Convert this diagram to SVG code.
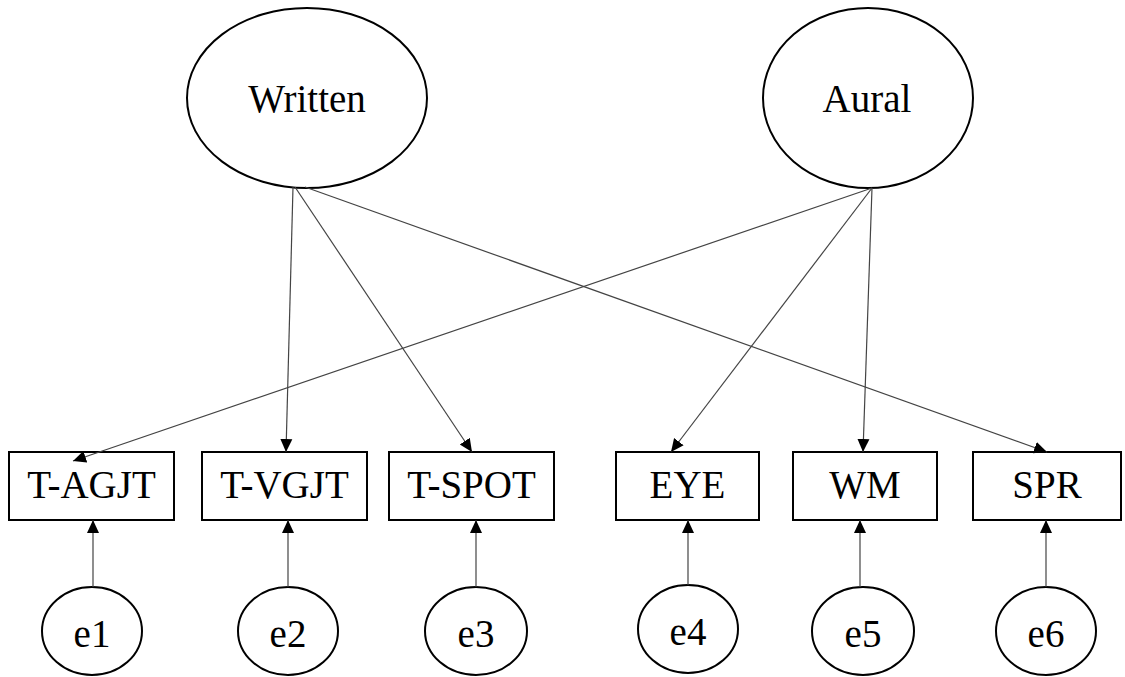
<svg xmlns="http://www.w3.org/2000/svg" width="1125" height="677" viewBox="0 0 1125 677">
  <defs>
    <marker id="arrow" markerUnits="userSpaceOnUse" markerWidth="14" markerHeight="14" viewBox="0 0 14 14" refX="13" refY="7" orient="auto">
      <path d="M0,1 L13,7 L0,13 Z" fill="#000"/>
    </marker>
  </defs>
  <style>
    .latent { fill: #fff; stroke: #000; stroke-width: 2; }
    .obs { fill: #fff; stroke: #000; stroke-width: 2; }
    .err { fill: #fff; stroke: #000; stroke-width: 2; }
    .lbl { font-family: "Liberation Serif", "Times New Roman", serif; font-size: 39px; fill: #000; text-anchor: middle; }
    .edge { stroke: #444; stroke-width: 1.2; fill: none; marker-end: url(#arrow); }
  </style>
  <rect width="1125" height="677" fill="#fff"/>

  <!-- latent factors -->
  <g id="written">
    <ellipse class="latent" cx="307" cy="98" rx="120" ry="90"/>
    <text class="lbl" x="307" y="112">Written</text>
  </g>
  <g id="aural">
    <ellipse class="latent" cx="868" cy="98" rx="105" ry="90"/>
    <text class="lbl" x="867" y="112">Aural</text>
  </g>

  <!-- observed indicators -->
  <g id="t-agjt">
    <rect class="obs" x="9" y="452" width="165" height="68"/>
    <text class="lbl" x="91.5" y="498">T-AGJT</text>
  </g>
  <g id="t-vgjt">
    <rect class="obs" x="202" y="452" width="165" height="68"/>
    <text class="lbl" x="284.5" y="498">T-VGJT</text>
  </g>
  <g id="t-spot">
    <rect class="obs" x="389" y="452" width="165" height="68"/>
    <text class="lbl" x="471.5" y="498">T-SPOT</text>
  </g>
  <g id="eye">
    <rect class="obs" x="616" y="452" width="143" height="68"/>
    <text class="lbl" x="687.5" y="498">EYE</text>
  </g>
  <g id="wm">
    <rect class="obs" x="793" y="452" width="144" height="68"/>
    <text class="lbl" x="865" y="498">WM</text>
  </g>
  <g id="spr">
    <rect class="obs" x="973" y="452" width="148" height="68"/>
    <text class="lbl" x="1047" y="498">SPR</text>
  </g>

  <!-- error terms -->
  <g id="e1">
    <ellipse class="err" cx="92" cy="631" rx="50" ry="44"/>
    <text class="lbl" x="92" y="647">e1</text>
  </g>
  <g id="e2">
    <ellipse class="err" cx="288" cy="631" rx="50" ry="44"/>
    <text class="lbl" x="288" y="647">e2</text>
  </g>
  <g id="e3">
    <ellipse class="err" cx="476" cy="631" rx="51" ry="44"/>
    <text class="lbl" x="476" y="647">e3</text>
  </g>
  <g id="e4">
    <ellipse class="err" cx="688" cy="629" rx="50" ry="44"/>
    <text class="lbl" x="688" y="645">e4</text>
  </g>
  <g id="e5">
    <ellipse class="err" cx="863" cy="631" rx="51" ry="44"/>
    <text class="lbl" x="863" y="647">e5</text>
  </g>
  <g id="e6">
    <ellipse class="err" cx="1046" cy="631" rx="50" ry="44"/>
    <text class="lbl" x="1046" y="647">e6</text>
  </g>

  <!-- paths: latent factors to indicators, errors to indicators (drawn on top) -->
  <g id="connectors">
    <line class="edge" x1="293" y1="187" x2="286" y2="452"/>
    <line class="edge" x1="295" y1="187" x2="472" y2="452"/>
    <line class="edge" x1="305" y1="187" x2="1047" y2="452"/>
    <line class="edge" x1="872" y1="188" x2="73" y2="461"/>
    <line class="edge" x1="872" y1="188" x2="671" y2="452"/>
    <line class="edge" x1="872" y1="188" x2="863" y2="452"/>
    <line class="edge" x1="93" y1="587" x2="93" y2="520"/>
    <line class="edge" x1="288" y1="587" x2="288" y2="520"/>
    <line class="edge" x1="476" y1="587" x2="476" y2="520"/>
    <line class="edge" x1="688" y1="585" x2="688" y2="520"/>
    <line class="edge" x1="860" y1="587" x2="860" y2="520"/>
    <line class="edge" x1="1046" y1="587" x2="1046" y2="520"/>
  </g>
</svg>
